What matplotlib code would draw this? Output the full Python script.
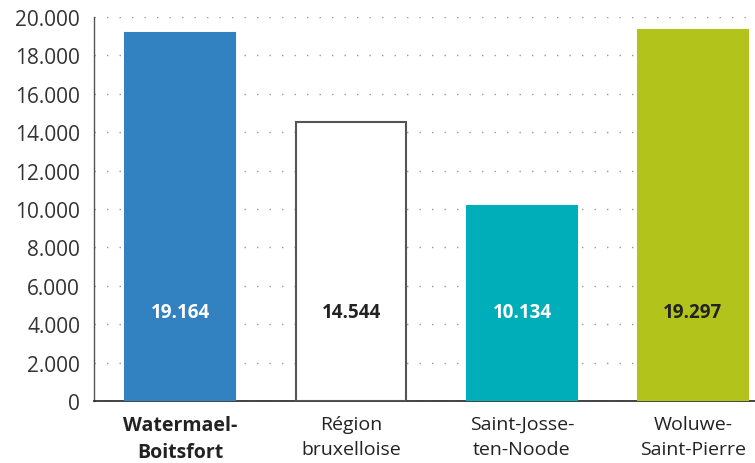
import matplotlib
matplotlib.use("Agg")
import matplotlib.pyplot as plt
import matplotlib.transforms as mtransforms

categories = ["Watermael-\nBoitsfort", "Région\nbruxelloise", "Saint-Josse-\nten-Noode", "Woluwe-\nSaint-Pierre"]
values = [19164, 14544, 10134, 19297]
value_labels = ["19.164", "14.544", "10.134", "19.297"]
yticks = [0, 2000, 4000, 6000, 8000, 10000, 12000, 14000, 16000, 18000, 20000]
ytick_labels = ["0", "2.000", "4.000", "6.000", "8.000", "10.000", "12.000", "14.000", "16.000", "18.000", "20.000"]

face_colors = ["#3282C1", "#FFFFFF", "#00AEB9", "#B2C41C"]
edge_colors = ["#3282C1", "#555555", "#00AEB9", "#B2C41C"]
label_colors = ["white", "#222222", "white", "#222222"]

plt.rcParams['font.family'] = ['Open Sans', 'DejaVu Sans']

fig = plt.figure(figsize=(7.55, 4.64), dpi=100)
ax = fig.add_axes([94/755, 62/464, (755-94)/755, (402-18)/464])

x = list(range(len(categories)))
ax.bar(x, values, width=0.643, color=face_colors, edgecolor=edge_colors, linewidth=1.5, zorder=3)

for xi, lab, col in zip(x, value_labels, label_colors):
    ax.text(xi, 4650, lab, ha='center', va='center', fontsize=13.5, fontweight='bold', color=col, zorder=4)

ax.set_xlim(-0.503, 3.363)
ax.set_ylim(0, 20000)
ax.set_yticks(yticks)
ax.set_yticklabels(ytick_labels, fontsize=15, color="#333333")
offset = mtransforms.ScaledTranslation(0, -6/100, fig.dpi_scale_trans)
for lbl in ax.get_yticklabels():
    lbl.set_transform(lbl.get_transform() + offset)

ax.set_xticks(x)
ax.set_xticklabels(categories, fontsize=14, color="#222222", linespacing=1.5)
ax.get_xticklabels()[0].set_fontweight('bold')
ax.tick_params(axis='both', length=0)
ax.tick_params(axis='x', pad=10)
ax.tick_params(axis='y', pad=10)

ax.yaxis.grid(True, color="#999999", linewidth=1, linestyle=(0, (1, 8)), zorder=0)
ax.set_axisbelow(True)

for s in ['top', 'right']:
    ax.spines[s].set_visible(False)
ax.spines['left'].set_color("#555555")
ax.spines['left'].set_linewidth(1)
ax.spines['bottom'].set_color("#222222")
ax.spines['bottom'].set_linewidth(1.2)

fig.savefig("out.png", dpi=100)
